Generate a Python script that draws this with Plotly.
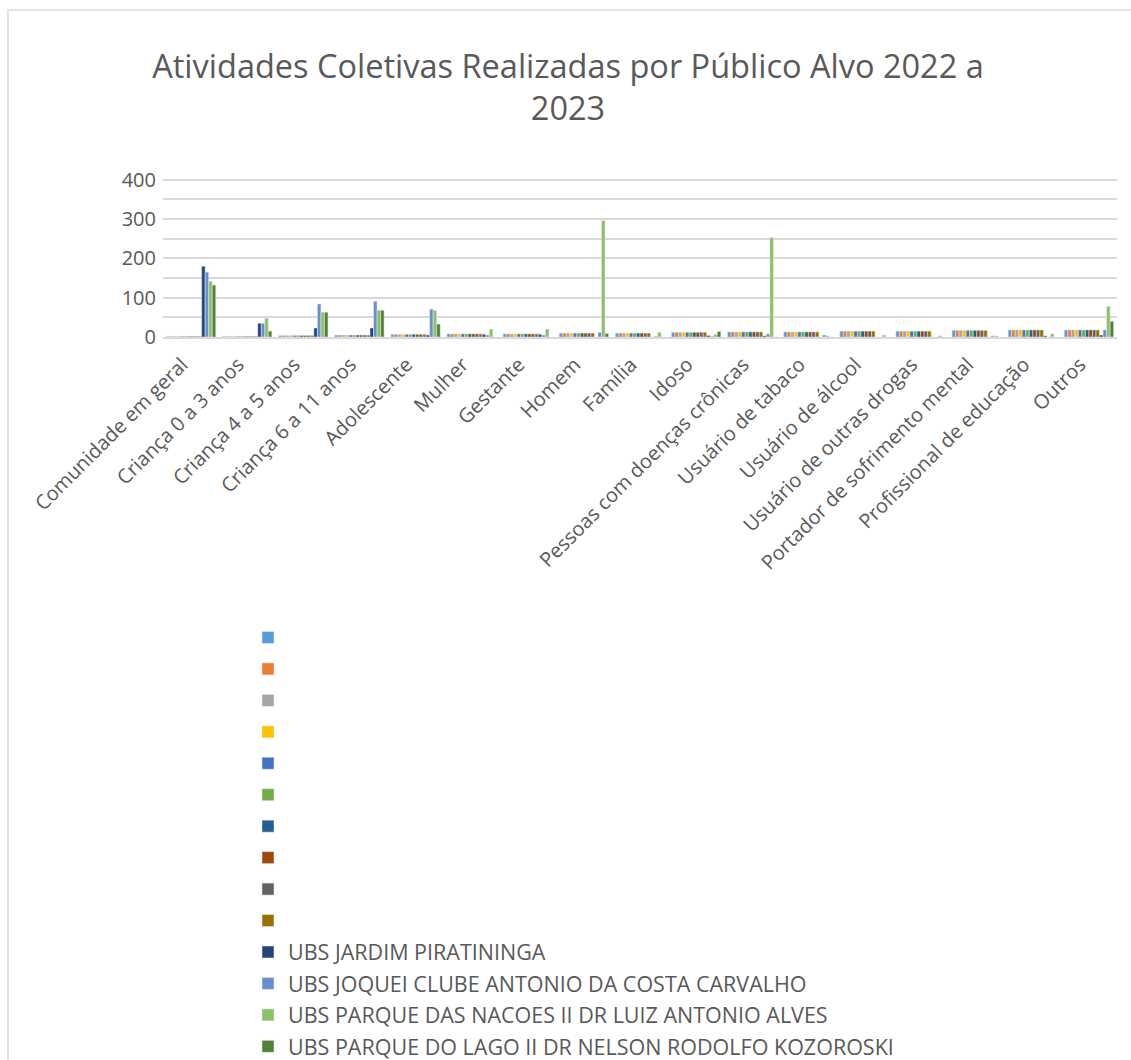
import plotly.graph_objects as go

categories = ["Comunidade em geral", "Criança 0 a 3 anos", "Criança 4 a 5 anos",
              "Criança 6 a 11 anos", "Adolescente", "Mulher", "Gestante", "Homem",
              "Família", "Idoso", "Pessoas com doenças crônicas", "Usuário de tabaco",
              "Usuário de álcool", "Usuário de outras drogas",
              "Portador de sofrimento mental", "Profissional de educação", "Outros"]

# ten unnamed series (all show the same small values)
unnamed_values = [2, 2, 4, 5, 7, 8, 8, 10, 10, 12, 13, 13, 15, 15, 17, 18, 18]
unnamed_colors = ["#5B9BD5", "#ED7D31", "#A5A5A5", "#FFC000", "#4472C4",
                  "#70AD47", "#255E91", "#9E480E", "#636363", "#997300"]

ubs_names = ["UBS JARDIM PIRATININGA",
             "UBS JOQUEI CLUBE ANTONIO DA COSTA CARVALHO",
             "UBS PARQUE DAS NACOES II DR LUIZ ANTONIO ALVES",
             "UBS PARQUE DO LAGO II DR NELSON RODOLFO KOZOROSKI"]
jardim_piratininga = [180, 35, 23, 23, 5, 7, 7, 0, 0, 4, 3, 0, 0, 0, 0, 3, 5]
joquei_clube = [165, 35, 84, 91, 71, 5, 5, 12, 2, 2, 8, 5, 0, 0, 3, 0, 18]
parque_nacoes = [142, 48, 63, 68, 68, 20, 20, 296, 12, 7, 253, 3, 5, 3, 3, 8, 78]
parque_lago = [132, 15, 63, 68, 33, 0, 0, 9, 0, 14, 0, 0, 0, 0, 0, 0, 40]
ubs_values = [jardim_piratininga, joquei_clube, parque_nacoes, parque_lago]
ubs_colors = ["#264478", "#698ED0", "#8CC168", "#548235"]

FONT = "Open Sans"
TXT = "#595959"
GRID = "#D9D9D9"

fig = go.Figure()
gi = 0
for c in unnamed_colors:
    fig.add_trace(go.Bar(x=categories, y=unnamed_values, name="", marker_color=c,
                         legendgroup=f"g{gi}"))
    gi += 1
for n, v, c in zip(ubs_names, ubs_values, ubs_colors):
    fig.add_trace(go.Bar(x=categories, y=v, name=n, marker_color=c,
                         legendgroup=f"g{gi}"))
    gi += 1

W, H = 1131, 1060
L, R, T, B = 163, 14, 160, 723
pw, ph = W - L - R, H - T - B

def px(x):
    return (x - L) / pw

def py(y):
    return (H - B - y) / ph

fig.update_layout(
    width=W, height=H,
    margin=dict(l=L, r=R, t=T, b=B, pad=0, autoexpand=False),
    paper_bgcolor="white", plot_bgcolor="white",
    font=dict(family=FONT, color=TXT),
    barmode="group", bargap=0.12, bargroupgap=0,
    title=dict(text="Atividades Coletivas Realizadas por Público Alvo 2022 a<br>2023",
               x=568 / W, xanchor="center", y=1 - 78 / H, yanchor="middle",
               font=dict(size=32.5, color=TXT, family=FONT)),
    xaxis=dict(type="category", tickangle=-45, tickfont=dict(size=20, color=TXT),
               showline=True, linecolor=GRID, linewidth=2, ticks="",
               ticklabelstandoff=6, ticklabelshift=-9,
               automargin=False, showgrid=False),
    yaxis=dict(range=[0, 450], dtick=100, tickfont=dict(size=20, color=TXT),
               showgrid=True, gridcolor=GRID, gridwidth=1.5,
               minor=dict(dtick=50, showgrid=True, gridcolor=GRID, gridwidth=1.5),
               zeroline=False, showline=False, ticks="", ticklabelstandoff=6,
               automargin=False),
    legend=dict(orientation="v", x=px(248), xanchor="left", y=py(617), yanchor="top",
                font=dict(size=21.5, color=TXT, family=FONT), tracegroupgap=0.5,
                traceorder="grouped", bgcolor="rgba(0,0,0,0)"),
    shapes=[dict(type="rect", xref="paper", yref="paper",
                 x0=px(8), x1=px(1145), y0=py(1080), y1=py(10),
                 line=dict(color=GRID, width=1.5), layer="below")],
)

fig.write_html("out.html")
